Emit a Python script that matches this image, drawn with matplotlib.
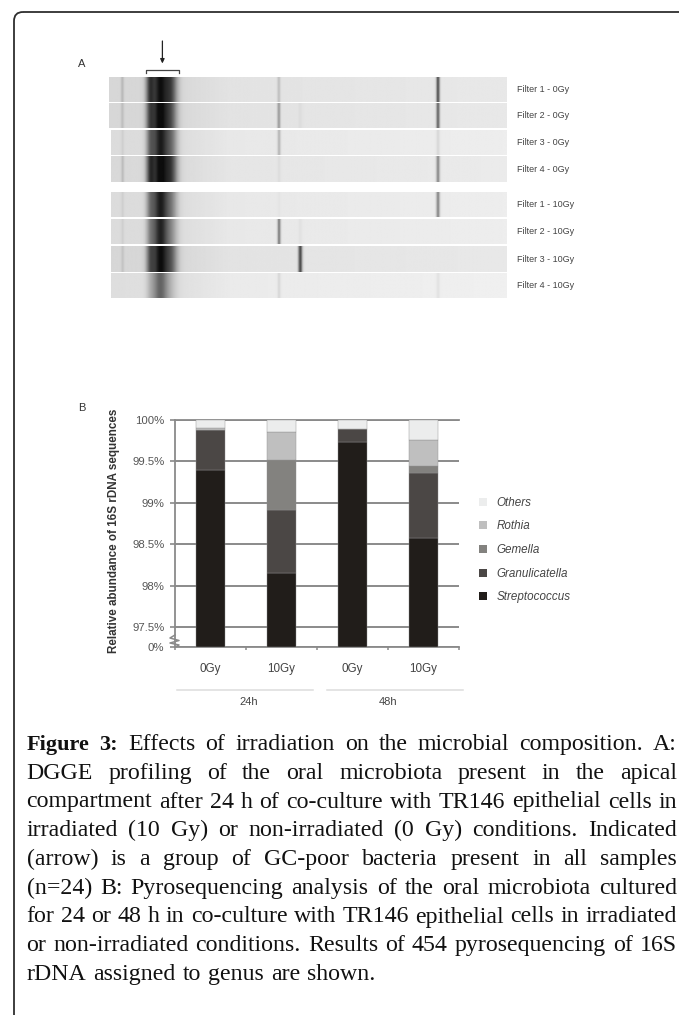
import numpy as np
import matplotlib
matplotlib.use("Agg")
import matplotlib.pyplot as plt
from matplotlib.patches import FancyBboxPatch, Patch

W, H = 679, 1015

# Panel A: band strength per lane
lane_labels = ["Filter 1 - 0Gy", "Filter 2 - 0Gy", "Filter 3 - 0Gy", "Filter 4 - 0Gy",
               "Filter 1 - 10Gy", "Filter 2 - 10Gy", "Filter 3 - 10Gy", "Filter 4 - 10Gy"]
lane_top = [76.7, 103.3, 130.0, 157.0, 192.0, 219.3, 246.3, 273.0]
lane_bottom = [101.7, 128.3, 155.0, 182.3, 216.7, 244.3, 271.7, 298.0]
lane_left = [109.3, 109.3, 111.0, 111.0, 111.0, 111.0, 111.0, 111.0]
main_band = [0.76, 0.82, 0.74, 0.82, 0.74, 0.72, 0.78, 0.48]
main_shoulder = [0.50, 0.44, 0.36, 0.52, 0.30, 0.24, 0.40, 0.10]
faint_122 = [0.12, 0.10, 0.05, 0.12, 0.05, 0.05, 0.08, 0.0]
band_279 = [0.14, 0.28, 0.20, 0.04, 0.02, 0.42, 0.0, 0.08]
band_300 = [0.0, 0.03, 0.0, 0.0, 0.0, 0.03, 0.60, 0.0]
band_438 = [0.58, 0.50, 0.08, 0.38, 0.40, 0.0, 0.0, 0.05]
lane_bg = [0.88, 0.88, 0.90, 0.89, 0.90, 0.90, 0.88, 0.91]

# Panel B: percent of sequences per genus
conditions = ["0Gy", "10Gy", "0Gy", "10Gy"]
streptococcus = [99.40, 98.15, 99.73, 98.57]
granulicatella = [0.48, 0.76, 0.165, 0.79]
gemella = [0.0, 0.61, 0.0, 0.09]
rothia = [0.02, 0.34, 0.0, 0.31]
others = [0.10, 0.14, 0.105, 0.24]
genus_names = ["Streptococcus", "Granulicatella", "Gemella", "Rothia", "Others"]
genus_colors = ["#211d1a", "#4b4745", "#83827f", "#bfbfbf", "#eceded"]
y_ticks = [97.255, 97.5, 98, 98.5, 99, 99.5, 100]
y_labels = ["0%", "97.5%", "98%", "98.5%", "99%", "99.5%", "100%"]

caption = [
    "Figure 3: Effects of irradiation on the microbial composition. A:",
    "DGGE profiling of the oral microbiota present in the apical",
    "compartment after 24 h of co-culture with TR146 epithelial cells in",
    "irradiated (10 Gy) or non-irradiated (0 Gy) conditions. Indicated",
    "(arrow) is a group of GC-poor bacteria present in all samples",
    "(n=24) B: Pyrosequencing analysis of the oral microbiota cultured",
    "for 24 or 48 h in co-culture with TR146 epithelial cells in irradiated",
    "or non-irradiated conditions. Results of 454 pyrosequencing of 16S",
    "rDNA assigned to genus are shown.",
]

plt.rcParams["font.family"] = ["Liberation Sans", "DejaVu Sans"]
fig = plt.figure(figsize=(W / 100, H / 100), dpi=100, facecolor="white")

# whole-page layer in pixel coordinates
page = fig.add_axes([0, 0, 1, 1], zorder=2)
page.patch.set_alpha(0)


def gauss(x, centre, sigma):
    return np.exp(-0.5 * ((x - centre) / sigma) ** 2)


# gel lanes
for i in range(len(lane_labels)):
    x = np.linspace(lane_left[i], 507, 500)
    row = lane_bg[i] + 0.03 * (x - 110) / 397
    row = row - 0.04 * np.clip((230 - x) / 50, 0, 1)
    row = row - faint_122[i] * gauss(x, 122.3, 1.0)
    row = row - main_band[i] * gauss(x, 160, 5.5)
    row = row - main_shoulder[i] * (gauss(x, 150, 3.0) + gauss(x, 171, 4.5))
    row = row - band_279[i] * gauss(x, 279, 1.1)
    row = row - band_300[i] * gauss(x, 300.3, 1.4)
    row = row - band_438[i] * gauss(x, 438.3, 1.2)
    page.imshow(np.tile(np.clip(row, 0.05, 1), (4, 1)), cmap="gray", vmin=0, vmax=1,
                extent=(lane_left[i], 507, lane_bottom[i], lane_top[i]),
                aspect="auto", interpolation="bilinear")
    page.text(517, (lane_top[i] + lane_bottom[i]) / 2, lane_labels[i], fontsize=6.5,
              color="#444444", va="center", ha="left")

page.text(82, 64, "A", fontsize=8, color="#333333", ha="center", va="center")
page.text(82, 408, "B", fontsize=8, color="#333333", ha="center", va="center")
page.plot([146, 146, 179, 179], [73, 69.5, 69.5, 73], color="#444444", lw=0.9)
page.annotate("", xy=(162.4, 63.5), xytext=(162.4, 41),
              arrowprops=dict(arrowstyle="-|>,head_width=0.12,head_length=0.25",
                              color="#222222", lw=0.9, shrinkA=0, shrinkB=0))

# page border runs off the right and bottom edges
page.add_patch(FancyBboxPatch((14, 12), W + 40, H + 40, boxstyle="round,pad=0,rounding_size=9",
                              fc="none", ec="#2e2e2e", lw=1.3, clip_on=True))

# axis break, group lines and labels
page.plot([175, 170, 179, 170, 179, 175], [635, 638, 640.5, 643, 645, 647.3],
          color="#8a8a8a", lw=1.1, zorder=6)
page.plot([177, 312.7], [690, 690], color="#dddddd", lw=1.1)
page.plot([327, 462.7], [690, 690], color="#dddddd", lw=1.1)
page.text(248.5, 702, "24h", fontsize=8, color="#444444", ha="center", va="center")
page.text(388.5, 702, "48h", fontsize=8, color="#444444", ha="center", va="center")
page.text(114, 531, "Relative abundance of 16S rDNA sequences", fontsize=8.4, weight="bold",
          color="#333333", rotation=90, ha="center", va="center")

# stacked bars
ax = fig.add_axes([175 / W, 1 - 647.3 / H, 284 / W, 227.3 / H])
ax.set_xlim(0, 4)
ax.set_ylim(y_ticks[0], 100)
xpos = np.arange(4) + 0.5
floor = y_ticks[0]
series = [streptococcus, granulicatella, gemella, rothia, others]
bottom = np.full(4, floor)
for k in range(5):
    vals = np.array(series[k])
    if k == 0:
        vals = vals - floor
    ax.bar(xpos, vals, 0.4, bottom=bottom, color=genus_colors[k], edgecolor="#8f8f8f",
           linewidth=0.3, zorder=3)
    bottom = bottom + vals

ax.set_yticks(y_ticks)
ax.set_yticklabels(y_labels, fontsize=8.2, color="#555555")
ax.set_xticks([0, 1, 2, 3, 4])
ax.set_xticklabels([])
ax.set_xticks(xpos, minor=True)
ax.set_xticklabels(conditions, minor=True, fontsize=8.4, color="#444444")
ax.tick_params(axis="x", which="major", length=2.5, width=1.1, color="#8a8a8a")
ax.tick_params(axis="x", which="minor", length=0, pad=11)
ax.tick_params(axis="y", length=3.6, width=1.2, color="#8a8a8a", pad=4)
ax.grid(axis="y", color="#8a8a8a", lw=1.4, zorder=1)
ax.set_axisbelow(True)
ax.spines["right"].set_visible(False)
for side in ["left", "bottom", "top"]:
    ax.spines[side].set_color("#8a8a8a")
    ax.spines[side].set_linewidth(1.3)

handles = [Patch(fc=genus_colors[k], ec="none", label=genus_names[k]) for k in range(4, -1, -1)]
leg = fig.legend(handles=handles, loc="center left", bbox_to_anchor=(468.5 / W, 1 - 550 / H),
                 frameon=False, handlelength=0.68, handleheight=0.68, handletextpad=0.83,
                 labelspacing=1.0, prop={"size": 8.4, "style": "italic"}, labelcolor="#444444")

# justified caption, one word at a time
page.set_xlim(0, W)
page.set_ylim(H, 0)
page.axis("off")
renderer = fig.canvas.get_renderer()
cap_left, cap_right = 26.5, 677
for n, line in enumerate(caption):
    words = line.split(" ")
    baseline = 750 + n * 28.75
    items = []
    for j, word in enumerate(words):
        bold = n == 0 and j < 2
        t = page.text(cap_left, baseline, word, fontsize=16 if bold else 17.2,
                      family="Liberation Serif", color="#111111",
                      weight="bold" if bold else "normal", va="baseline")
        items.append(t)
    widths = [t.get_window_extent(renderer).width for t in items]
    if n < len(caption) - 1:
        gap = (cap_right - cap_left - sum(widths)) / (len(words) - 1)
    else:
        gap = 7
    cur = cap_left
    for t, w in zip(items, widths):
        t.set_x(cur)
        cur += w + gap

fig.savefig("out.png", dpi=100)
